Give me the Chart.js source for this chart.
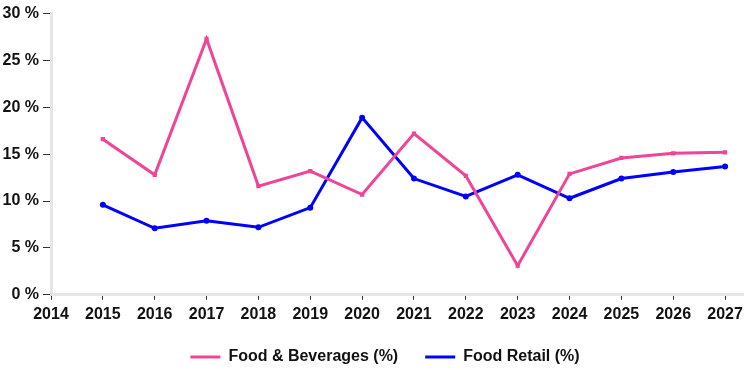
<!DOCTYPE html>
<html>
<head>
<meta charset="utf-8">
<script src="https://cdn.jsdelivr.net/npm/chart.js@4.4.1/dist/chart.umd.min.js"></script>
<style>
  html, body { margin: 0; padding: 0; background: #fff; }
  #wrap { width: 748px; height: 370px; }
</style>
</head>
<body>
<div id="wrap"><canvas id="grafico"></canvas></div>
<script>
// datos
var years = [2015, 2016, 2017, 2018, 2019, 2020, 2021, 2022, 2023, 2024, 2025, 2026, 2027];
var tickYears = [2014, 2015, 2016, 2017, 2018, 2019, 2020, 2021, 2022, 2023, 2024, 2025, 2026, 2027];
var foodBeverages = [16.6, 12.8, 27.3, 11.6, 13.2, 10.7, 17.2, 12.7, 3.1, 12.9, 14.6, 15.1, 15.2];
var foodRetail = [9.6, 7.1, 7.9, 7.2, 9.3, 18.9, 12.4, 10.5, 12.8, 10.3, 12.4, 13.1, 13.7];
var yTicks = [0, 5, 10, 15, 20, 25, 30];

var pink = '#EF4597';
var blue = '#0000FF';
var fuente = { family: 'Arial, "Liberation Sans", sans-serif', size: 16, weight: 'bold' };

function puntos(valores) {
    return years.map(function (y, i) {
        return { x: y, y: valores[i] };
    });
}

// mover la leyenda un poco a la derecha, como en el original
var moverLeyenda = {
    id: 'moverLeyenda',
    afterLayout: function (chart) {
        if (chart.legend) {
            chart.legend.left += 11;
            chart.legend.right += 11;
        }
    }
};

var ctx = document.getElementById('grafico').getContext('2d');
new Chart(ctx, {
    type: 'line',
    data: {
        datasets: [{
            label: 'Food & Beverages (%)',
            data: puntos(foodBeverages),
            borderColor: pink,
            backgroundColor: pink,
            borderWidth: 3,
            pointStyle: 'rect',
            pointRadius: 3,
            pointBackgroundColor: pink,
            pointBorderWidth: 0,
            tension: 0
        }, {
            label: 'Food Retail (%)',
            data: puntos(foodRetail),
            borderColor: blue,
            backgroundColor: blue,
            borderWidth: 3,
            pointStyle: 'circle',
            pointRadius: 3,
            pointBackgroundColor: blue,
            pointBorderWidth: 0,
            tension: 0
        }]
    },
    plugins: [moverLeyenda],
    options: {
        responsive: true,
        maintainAspectRatio: false,
        animation: false,
        layout: { padding: { top: 13, right: 0, left: 0, bottom: -5 } },
        scales: {
            x: {
                type: 'linear',
                min: 2014,
                max: 2027.35,
                afterBuildTicks: function (scale) {
                    scale.ticks = tickYears.map(function (v) { return { value: v }; });
                },
                afterFit: function (scale) { scale.height = scale.height - 7; },
                ticks: {
                    color: '#111',
                    font: fuente,
                    padding: 5,
                    maxRotation: 0,
                    autoSkip: false,
                    callback: function (v) { return String(v); }
                },
                grid: {
                    drawOnChartArea: false,
                    tickLength: 5,
                    tickColor: '#333',
                    tickWidth: 1
                },
                border: { color: '#e6e6e6', width: 3 }
            },
            y: {
                min: 0,
                max: 30,
                afterBuildTicks: function (scale) {
                    scale.ticks = yTicks.map(function (v) { return { value: v }; });
                },
                afterFit: function (scale) { scale.width = 51; },
                ticks: {
                    color: '#111',
                    font: fuente,
                    padding: 4,
                    callback: function (v) { return v + ' %'; }
                },
                grid: {
                    drawOnChartArea: false,
                    tickLength: 8,
                    tickColor: '#333',
                    tickWidth: 1
                },
                border: { color: '#e6e6e6', width: 3 }
            }
        },
        plugins: {
            legend: {
                position: 'bottom',
                labels: {
                    color: '#111',
                    font: fuente,
                    boxWidth: 30,
                    boxHeight: 0,
                    padding: 27
                }
            },
            tooltip: { enabled: false }
        }
    }
});
</script>
</body>
</html>
